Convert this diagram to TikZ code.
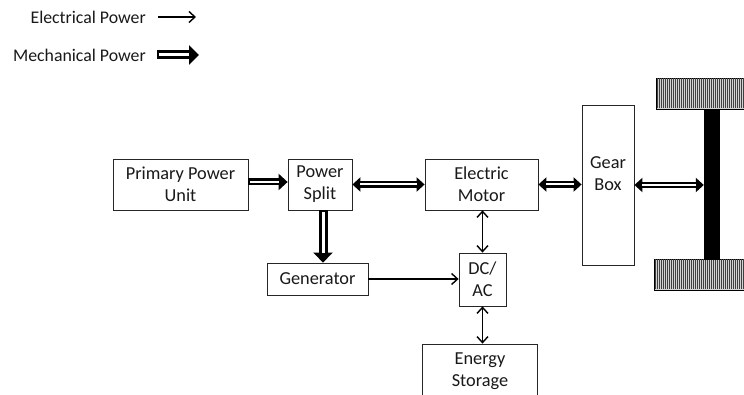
\documentclass[tikz,border=0pt]{standalone}
\usepackage{fontspec}
\setmainfont{Carlito}
\usetikzlibrary{arrows.meta}
\tikzset{
  box/.style={draw=black!85, line width=0.8pt, fill=white, align=center, inner sep=0pt,
    font=\fontsize{18.3}{22}\selectfont, text=black!90},
  legtxt/.style={anchor=east, inner sep=0pt, font=\fontsize{17.8}{20}\selectfont, text=black!90},
  mech/.style={line width=7pt, -{Triangle[length=9pt,width=16pt]},
    postaction={draw=white, line width=2.2pt, -, shorten >=9pt, shorten <=1.5pt}},
  mechbig/.style={line width=9pt, -{Triangle[length=10pt,width=19pt]},
    postaction={draw=white, line width=3pt, -, shorten >=10pt, shorten <=1.5pt}},
  mechboth/.style={line width=6.5pt, {Triangle[length=8pt,width=14pt]}-{Triangle[length=8pt,width=14pt]},
    postaction={draw=white, line width=2pt, -, shorten >=8pt, shorten <=8pt}},
  elec/.style={line width=1.4pt, -{Straight Barb[length=6pt,width=11pt]}},
  elecboth/.style={line width=1.4pt, {Straight Barb[length=6pt,width=11pt]}-{Straight Barb[length=6pt,width=11pt]}},
  wheel/.style={draw=black, line width=0.8pt, fill=gray!35},
}
\begin{document}
\begin{tikzpicture}[x=1pt,y=-1pt]
\useasboundingbox (0,0) rectangle (744,395);
% legend
\node[legtxt] (le) at (146,17) {Electrical Power};
\node[legtxt] (lm) at (146,55) {Mechanical Power};
\coordinate (le1) at (158,17); \coordinate (le2) at (196,17);
\coordinate (lm1) at (157,55); \coordinate (lm2) at (199,55);
\draw[elec] (le1) -- (le2);
\draw[mechbig] (lm1) -- (lm2);
% boxes
\node[box, minimum width=135pt, minimum height=51pt] (ppu) at (180.5,184.5) {Primary Power\\Unit};
\node[box, minimum width=64pt, minimum height=51pt] (ps) at (320,184.5) {Power\\Split};
\node[box, minimum width=113pt, minimum height=51pt] (em) at (481.5,184.5) {Electric\\Motor};
\node[box, minimum width=52pt, minimum height=160pt] (gb) at (608,185) {Gear\\Box\\\mbox{}};
\node[box, minimum width=101pt, minimum height=32pt] (gen) at (317.5,279) {Generator};
\node[box, minimum width=47pt, minimum height=53pt] (dc) at (482.5,279.5) {DC/\\AC};
\node[box, minimum width=115pt, minimum height=55pt] (es) at (480,371.5) {Energy\\Storage};
% wheels and axle
\draw[wheel] (656,78) rectangle (750,109);
\foreach \x in {657.5,659.5,...,744} \draw[black!75, line width=0.7pt] (\x,78.5) -- (\x,108.5);
\draw[wheel] (654,259) rectangle (750,290);
\foreach \x in {655.5,657.5,...,744} \draw[black!75, line width=0.7pt] (\x,259.5) -- (\x,289.5);
\node[fill=black, draw=black, inner sep=0pt, minimum width=15pt, minimum height=150pt] (axle) at (711.5,184) {};
% connectors
\draw[mech] ([yshift=2.5pt]ppu.east) -- ([yshift=2.5pt]ps.west);
\draw[mechboth] (ps.east) -- (em.west);
\draw[mechboth] (em.east) -- (em.east -| gb.west);
\draw[mechboth] (gb.east) -- (gb.east -| axle.west);
\draw[mechbig] ([xshift=3pt]ps.south) -- ([xshift=3pt]ps.south |- gen.north);
\draw[elecboth] (dc.north |- em.south) -- (dc.north);
\draw[elec] (gen.east) -- (gen.east -| dc.west);
\draw[elecboth] (dc.south) -- (dc.south |- es.north);
\end{tikzpicture}
\end{document}
